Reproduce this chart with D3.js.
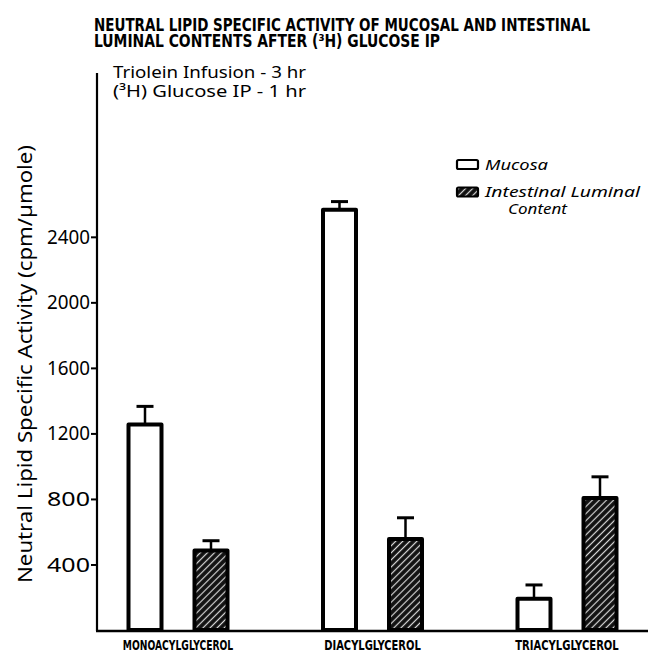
<!DOCTYPE html>
<html><head><meta charset="utf-8">
<script src="https://cdn.jsdelivr.net/npm/d3@7/dist/d3.min.js"></script>
<style>body{margin:0;background:#fff}</style>
</head><body>
<svg id="c" width="654" height="653"></svg>
<script>
const categories = ["MONOACYLGLYCEROL", "DIACYLGLYCEROL", "TRIACYLGLYCEROL"];
const series = ["Mucosa", "Intestinal Luminal Content"];
const mucosa = [1255, 2565, 190];
const mucosaErr = [110, 50, 85];
const luminal = [485, 555, 805];
const luminalErr = [60, 130, 130];
const yTicks = [400, 800, 1200, 1600, 2000, 2400];
const titleLines = ["NEUTRAL LIPID SPECIFIC ACTIVITY OF MUCOSAL AND INTESTINAL", "LUMINAL CONTENTS AFTER (\u00B3H) GLUCOSE IP"];
const noteLines = ["Triolein Infusion - 3 hr", "(\u00B3H) Glucose IP - 1 hr"];
const yTitle = "Neutral Lipid Specific Activity (cpm/\u00B5mole)";

const svg = d3.select("#c");
const defs = svg.append("defs");
const pat = defs.append("pattern").attr("id","hatch").attr("patternUnits","userSpaceOnUse")
  .attr("width",5).attr("height",5).attr("patternTransform","rotate(45)");
pat.append("rect").attr("width",5).attr("height",5).attr("fill","#111");
pat.append("line").attr("x1",2.5).attr("y1",0).attr("x2",2.5).attr("y2",5)
  .attr("stroke","#d8d8d8").attr("stroke-width",1.2);

const y = d3.scaleLinear().domain([0, 3400]).range([630, 73]);
const x = d3.scalePoint().domain(categories).range([178, 567]);
const xs = d3.scaleBand().domain(series).range([-49.5, 49.5]).paddingInner(0.5);

// title
const tl = [496, 346];
svg.selectAll("text.title").data(titleLines).join("text").attr("class","title")
  .attr("x",94).attr("y",(d,i)=>30.5+i*16.2)
  .attr("font-family","'Liberation Sans Narrow','DejaVu Sans Condensed',sans-serif")
  .attr("font-weight","bold").attr("font-size",17.5)
  .attr("textLength",(d,i)=>tl[i]).attr("lengthAdjust","spacingAndGlyphs")
  .text(d=>d);

svg.selectAll("text.note").data(noteLines).join("text").attr("class","note")
  .attr("x",113).attr("y",(d,i)=>77.5+i*19.5)
  .attr("font-family","'Noto Sans',sans-serif").attr("font-size",16.5)
  .attr("textLength",193).attr("lengthAdjust","spacingAndGlyphs")
  .text(d=>d);

// y axis
const yAxis = d3.axisLeft(y).tickValues(yTicks).tickSize(6).tickPadding(1).tickFormat(d3.format("d"));
const gy = svg.append("g").attr("transform","translate(97,0)").call(yAxis);
gy.select(".domain").remove();
gy.selectAll(".tick line").attr("stroke","#000").attr("stroke-width",2);
gy.selectAll(".tick text").attr("font-family","'Noto Sans',sans-serif").attr("font-size",20.5)
  .attr("fill","#000").attr("textLength",43).attr("lengthAdjust","spacingAndGlyphs");
svg.append("line").attr("x1",97).attr("x2",97).attr("y1",y.range()[1]).attr("y2",y(0)+1)
  .attr("stroke","#000").attr("stroke-width",2.2);

svg.append("text").attr("transform",`translate(32,364) rotate(-90)`).attr("text-anchor","middle")
  .attr("font-family","'Noto Sans',sans-serif").attr("font-size",20)
  .attr("textLength",438).attr("lengthAdjust","spacingAndGlyphs").text(yTitle);

// bars
const rows = [];
categories.forEach((c,i)=>{
  rows.push({c, s:series[0], v:mucosa[i], e:mucosaErr[i]});
  rows.push({c, s:series[1], v:luminal[i], e:luminalErr[i]});
});
const fillFor = s => s===series[0] ? "#fff" : "url(#hatch)";

const g = svg.append("g");
g.selectAll("line.err").data(rows).join("line").attr("class","err")
  .attr("x1",d=>x(d.c)+xs(d.s)+xs.bandwidth()/2).attr("x2",d=>x(d.c)+xs(d.s)+xs.bandwidth()/2)
  .attr("y1",d=>y(d.v)).attr("y2",d=>y(d.v+d.e)).attr("stroke","#000").attr("stroke-width",2.5);
g.selectAll("line.cap").data(rows).join("line").attr("class","cap")
  .attr("x1",d=>x(d.c)+xs(d.s)+xs.bandwidth()/2-8.5).attr("x2",d=>x(d.c)+xs(d.s)+xs.bandwidth()/2+8.5)
  .attr("y1",d=>y(d.v+d.e)).attr("y2",d=>y(d.v+d.e)).attr("stroke","#000").attr("stroke-width",3);
g.selectAll("rect.bar").data(rows).join("rect").attr("class","bar")
  .attr("x",d=>x(d.c)+xs(d.s)).attr("width",xs.bandwidth())
  .attr("y",d=>y(d.v)).attr("height",d=>y(0)-y(d.v))
  .attr("fill",d=>fillFor(d.s)).attr("stroke","#000").attr("stroke-width",4)
  .attr("stroke-linejoin","round");

// x axis baseline
svg.append("line").attr("x1",96).attr("x2",648).attr("y1",y(0)+1).attr("y2",y(0)+1)
  .attr("stroke","#000").attr("stroke-width",2.5);
svg.selectAll("text.cat").data(categories).join("text").attr("class","cat")
  .attr("x",d=>x(d)).attr("y",649.5).attr("text-anchor","middle")
  .attr("font-family","'Liberation Sans Narrow','DejaVu Sans Condensed',sans-serif")
  .attr("font-weight","bold").attr("font-size",14)
  .attr("textLength",d=>d.length*6.9).attr("lengthAdjust","spacingAndGlyphs").text(d=>d);

// legend
const leg = svg.append("g");
const legRows = [{s:series[0], lines:["Mucosa"]},{s:series[1], lines:["Intestinal Luminal","Content"]}];
const legLen = [[63],[155,59]];
legRows.forEach((r,i)=>{
  const ly = 160 + i*27.5;
  leg.append("rect").attr("x",457).attr("y",ly).attr("width",21).attr("height",9)
    .attr("fill",fillFor(r.s)).attr("stroke","#000").attr("stroke-width",2.2).attr("rx",1.5);
  r.lines.forEach((t,j)=>{
    leg.append("text").attr("x",j===0?485:508).attr("y",ly+9.5+j*16.5)
      .attr("font-family","'Noto Sans',sans-serif").attr("font-style","italic").attr("font-size",15)
      .attr("textLength",legLen[i][j]).attr("lengthAdjust","spacingAndGlyphs").text(t);
  });
});
</script>
</body></html>
